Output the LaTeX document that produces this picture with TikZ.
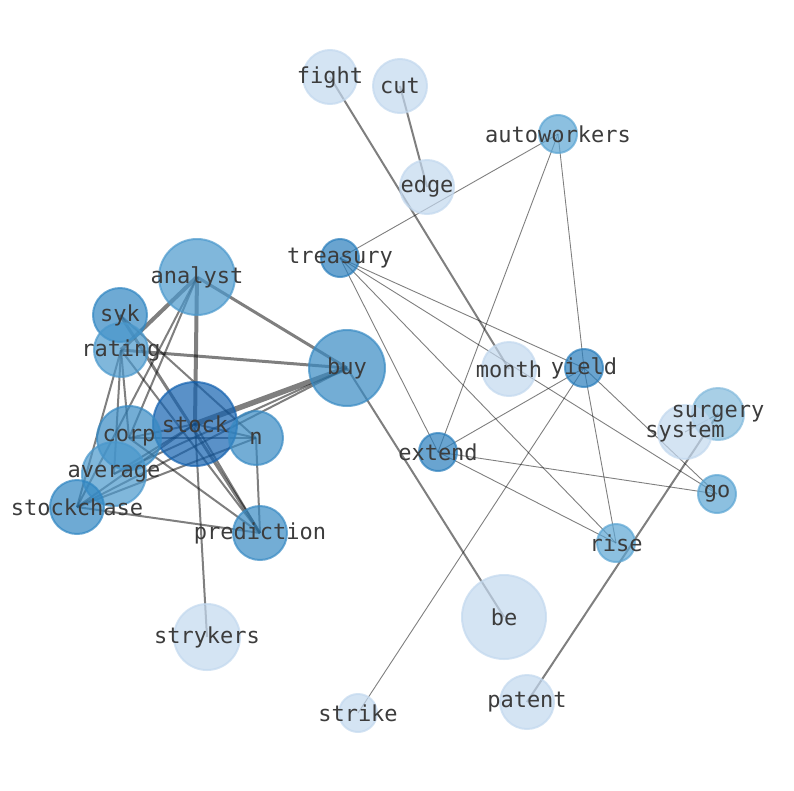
\documentclass[tikz,border=0pt]{standalone}
\usepackage{fontspec}
\setmainfont{DejaVu Sans Mono}
\definecolor{cL}{RGB}{194,216,238}
\definecolor{cSu}{RGB}{131,186,220}
\definecolor{cA}{RGB}{91,165,211}
\definecolor{cAn}{RGB}{74,152,204}
\definecolor{cB}{RGB}{56,138,195}
\definecolor{cS}{RGB}{48,134,194}
\definecolor{cT}{RGB}{42,126,188}
\definecolor{cK}{RGB}{20,98,176}
\definecolor{txt}{RGB}{60,60,60}
\tikzset{
  nd/.style={draw=#1, fill=#1, fill opacity=0.7, draw opacity=0.7, line width=2pt},
  lbl/.style={text=txt, font=\fontsize{22}{24}\selectfont, inner sep=0pt, anchor=center},
  ew/.style={draw=black, draw opacity=0.5, line width=#1},
  e1/.style={ew=0.9pt},
  e2/.style={ew=2pt},
  e3/.style={ew=3pt},
  e4/.style={ew=4pt},
  e5/.style={ew=5.5pt}
}
\begin{document}
\begin{tikzpicture}[x=1pt,y=-1pt]
\useasboundingbox (0,0) rectangle (794,790);
% node positions
\coordinate (vfight) at (330,77);
\coordinate (vcut) at (400,86);
\coordinate (vauto) at (558,134);
\coordinate (vedge) at (427,187);
\coordinate (vtreasury) at (340,258);
\coordinate (vanalyst) at (197,277);
\coordinate (vsyk) at (120,315);
\coordinate (vrating) at (121,350);
\coordinate (vbuy) at (347,368);
\coordinate (vmonth) at (509,369);
\coordinate (vyield) at (584,368);
\coordinate (vsurgery) at (718,414);
\coordinate (vsystem) at (685,432);
\coordinate (vstock) at (195,424);
\coordinate (vn) at (256,438);
\coordinate (vcorp) at (129,438);
\coordinate (vextend) at (438,452);
\coordinate (vaverage) at (114,474);
\coordinate (vstockchase) at (77,507);
\coordinate (vgo) at (717,494);
\coordinate (vprediction) at (260,533);
\coordinate (vrise) at (616,543);
\coordinate (vstrykers) at (207,637);
\coordinate (vbe) at (504,617);
\coordinate (vstrike) at (358,713);
\coordinate (vpatent) at (527,702);
% thin edges
\draw[e1] (vauto) -- (vtreasury);
\draw[e1] (vauto) -- (vextend);
\draw[e1] (vauto) -- (vyield);
\draw[e1] (vtreasury) -- (vextend);
\draw[e1] (vtreasury) -- (vrise);
\draw[e1] (vtreasury) -- (vgo);
\draw[e1] (vtreasury) -- (vyield);
\draw[e1] (vyield) -- (vextend);
\draw[e1] (vyield) -- (vgo);
\draw[e1] (vyield) -- (vrise);
\draw[e1] (vyield) -- (vstrike);
\draw[e1] (vextend) -- (vgo);
\draw[e1] (vextend) -- (vrise);
\draw[e1] (vsystem) -- (vsurgery);
% medium edges right
\draw[e2] (vfight) -- (vmonth);
\draw[e2] (vcut) -- (vedge);
\draw[e2] (vbuy) -- (vbe);
\draw[e2] (vsurgery) -- (vpatent);
% left cluster
\draw[e4] (vanalyst) -- (vrating);
\draw[e4] (vanalyst) -- (vstock);
\draw[e3] (vanalyst) -- (vbuy);
\draw[e2] (vanalyst) -- (vcorp);
\draw[e2] (vanalyst) -- (vstockchase);
\draw[e3] (vsyk) -- (vprediction);
\draw[e2] (vsyk) -- (vn);
\draw[e3] (vrating) -- (vbuy);
\draw[e2] (vrating) -- (vprediction);
\draw[e2] (vrating) -- (vcorp);
\draw[e2] (vrating) -- (vaverage);
\draw[e2] (vrating) -- (vstockchase);
\draw[e5] (vbuy) -- (vstock);
\draw[e2] (vbuy) -- (vaverage);
\draw[e2] (vbuy) -- (vstockchase);
\draw[e2] (vstock) -- (vn);
\draw[e2] (vstock) -- (vprediction);
\draw[e2] (vstock) -- (vstrykers);
\draw[e2] (vstock) -- (vcorp);
\draw[e2] (vstock) -- (vaverage);
\draw[e2] (vstock) -- (vstockchase);
\draw[e2] (vn) -- (vprediction);
\draw[e2] (vn) -- (vcorp);
\draw[e2] (vn) -- (vstockchase);
\draw[e2] (vstockchase) -- (vprediction);
\draw[e2] (vcorp) -- (vprediction);
% nodes
\filldraw[nd=cL] (vfight) circle (27);
\filldraw[nd=cL] (vcut) circle (27);
\filldraw[nd=cA] (vauto) circle (19);
\filldraw[nd=cL] (vedge) circle (27);
\filldraw[nd=cT] (vtreasury) circle (19);
\filldraw[nd=cAn] (vanalyst) circle (38);
\filldraw[nd=cS] (vsyk) circle (27);
\filldraw[nd=cAn] (vrating) circle (27);
\filldraw[nd=cB] (vbuy) circle (38);
\filldraw[nd=cL] (vmonth) circle (27);
\filldraw[nd=cT] (vyield) circle (19);
\filldraw[nd=cSu] (vsurgery) circle (26);
\filldraw[nd=cL] (vsystem) circle (27);
\filldraw[nd=cK] (vstock) circle (42);
\filldraw[nd=cB] (vn) circle (27);
\filldraw[nd=cB] (vcorp) circle (32);
\filldraw[nd=cT] (vextend) circle (19);
\filldraw[nd=cAn] (vaverage) circle (32);
\filldraw[nd=cS] (vstockchase) circle (27);
\filldraw[nd=cA] (vgo) circle (19);
\filldraw[nd=cB] (vprediction) circle (27);
\filldraw[nd=cA] (vrise) circle (19);
\filldraw[nd=cL] (vstrykers) circle (33);
\filldraw[nd=cL] (vbe) circle (42);
\filldraw[nd=cL] (vstrike) circle (19);
\filldraw[nd=cL] (vpatent) circle (27);
% labels
\node[lbl] (lfight) at ([yshift=-1pt]vfight) {fight};
\node[lbl] (lcut) at (vcut) {cut};
\node[lbl] (lauto) at (vauto) {autoworkers};
\node[lbl] (ledge) at (vedge) {edge};
\node[lbl] (ltreasury) at (vtreasury) {treasury};
\node[lbl] (lanalyst) at (vanalyst) {analyst};
\node[lbl] (lsyk) at (vsyk) {syk};
\node[lbl] (lrating) at (vrating) {rating};
\node[lbl] (lbuy) at (vbuy) {buy};
\node[lbl] (lmonth) at (vmonth) {month};
\node[lbl] (lyield) at (vyield) {yield};
\node[lbl] (lsurgery) at (vsurgery) {surgery};
\node[lbl] (lsystem) at (vsystem) {system};
\node[lbl] (lstock) at (vstock) {stock};
\node[lbl] (ln) at (vn) {n};
\node[lbl] (lcorp) at (vcorp) {corp};
\node[lbl] (lextend) at (vextend) {extend};
\node[lbl] (laverage) at (vaverage) {average};
\node[lbl] (lstockchase) at (vstockchase) {stockchase};
\node[lbl] (lgo) at (vgo) {go};
\node[lbl] (lprediction) at (vprediction) {prediction};
\node[lbl] (lrise) at (vrise) {rise};
\node[lbl] (lstrykers) at (vstrykers) {strykers};
\node[lbl] (lbe) at (vbe) {be};
\node[lbl] (lstrike) at (vstrike) {strike};
\node[lbl] (lpatent) at (vpatent) {patent};
\end{tikzpicture}
\end{document}
